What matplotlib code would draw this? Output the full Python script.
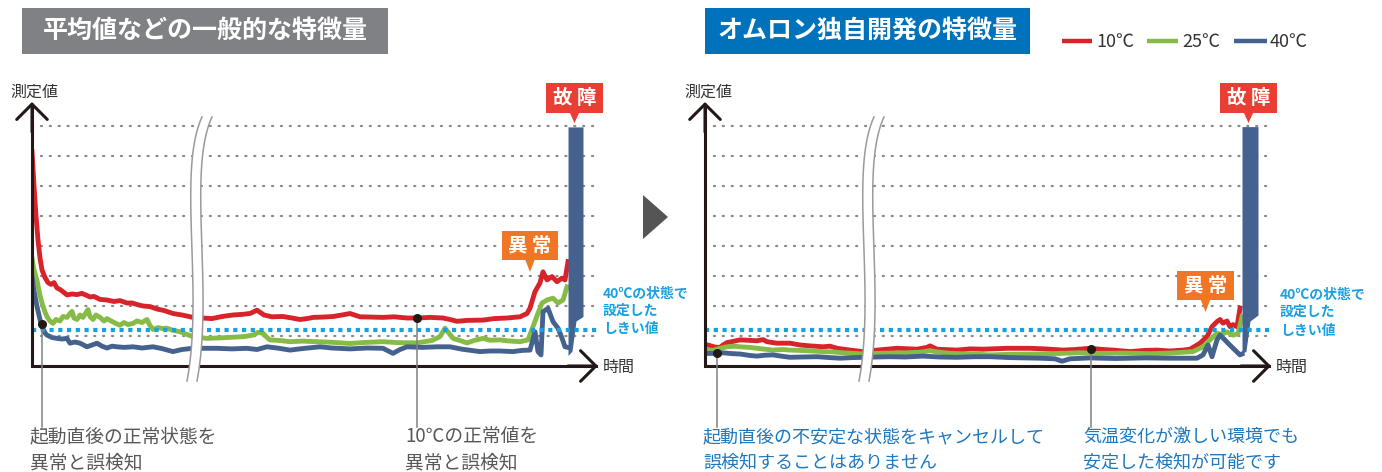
import numpy as np
import matplotlib
matplotlib.use('Agg')
import matplotlib.pyplot as plt
from matplotlib.patches import Rectangle, Polygon

plt.rcParams['font.family'] = ['Noto Sans CJK JP', 'DejaVu Sans']

# Series labels and colours
temps = ['10℃', '25℃', '40℃']
colors = ['#d7242b', '#86bb45', '#45628e']

# Common levels (measured value units)
grid_levels = [1, 2, 3, 4, 5, 6, 7, 8]
threshold = 1.2

# ---- left chart: general features (mean etc.) ----
gen_t_10 = [0, 2, 4, 6, 8, 10, 13, 16, 19, 22, 25, 28, 32, 35, 40, 45, 50, 55, 58, 62,
            68, 75, 82, 88, 95, 100, 105, 111, 118, 125, 132, 141, 150, 161, 170, 180,
            190, 201, 210, 218, 225, 232, 240, 251, 260, 268, 275, 281, 290, 301, 310,
            318, 328, 340, 351, 362, 375, 385, 398, 411, 418, 425, 435, 451, 462, 475,
            488, 495, 498, 503, 508, 511, 515, 520, 525, 530, 533, 536]
gen_v_10 = [7.15, 6.0, 5.0, 4.2, 3.6, 3.2, 2.95, 2.78, 2.72, 2.78, 2.6, 2.55, 2.45, 2.37,
            2.4, 2.38, 2.42, 2.35, 2.3, 2.32, 2.22, 2.2, 2.15, 2.18, 2.1, 2.1, 2.05, 2.0,
            1.98, 1.9, 1.85, 1.75, 1.7, 1.62, 1.6, 1.58, 1.65, 1.7, 1.72, 1.75, 1.86, 1.7,
            1.64, 1.65, 1.6, 1.55, 1.58, 1.62, 1.63, 1.65, 1.7, 1.75, 1.64, 1.63, 1.62,
            1.64, 1.6, 1.6, 1.62, 1.6, 1.55, 1.49, 1.52, 1.53, 1.58, 1.6, 1.64, 1.75, 1.93,
            2.48, 2.77, 3.14, 2.87, 2.98, 2.81, 2.93, 2.87, 3.48]

gen_t_25 = [0, 2, 5, 8, 10, 13, 15, 18, 21, 24, 28, 31, 35, 38, 40, 42, 45, 48, 51, 54,
            56, 58, 61, 64, 68, 72, 75, 78, 82, 85, 88, 92, 96, 101, 105, 110, 115, 118,
            121, 126, 130, 135, 140, 148, 155, 161, 175, 190, 201, 212, 221, 226, 231,
            235, 238, 248, 258, 270, 285, 300, 318, 330, 351, 365, 385, 400, 408, 413,
            418, 421, 428, 435, 443, 451, 458, 468, 475, 488, 496, 501, 506, 510, 515,
            521, 526, 531, 535]
gen_v_25 = [3.6, 3.2, 2.85, 2.35, 2.1, 1.8, 1.64, 1.5, 1.42, 1.55, 1.5, 1.65, 1.62, 1.75,
            1.82, 1.6, 1.55, 1.7, 1.62, 1.78, 1.88, 1.65, 1.55, 1.7, 1.62, 1.5, 1.58, 1.52,
            1.45, 1.4, 1.36, 1.45, 1.38, 1.42, 1.5, 1.45, 1.55, 1.35, 1.22, 1.28, 1.25,
            1.26, 1.2, 1.14, 1.05, 0.98, 0.92, 0.94, 0.96, 0.98, 1.03, 1.12, 1.09, 0.95,
            0.87, 0.85, 0.81, 0.83, 0.81, 0.79, 0.75, 0.78, 0.81, 0.78, 0.77, 0.85, 0.98,
            1.26, 1.05, 0.92, 0.85, 0.77, 0.86, 0.92, 0.86, 0.87, 0.84, 0.81, 0.87, 1.31,
            1.76, 2.1, 2.2, 2.26, 2.1, 2.2, 2.64]

gen_t_40 = [0, 2, 5, 8, 10, 13, 15, 20, 25, 30, 35, 38, 43, 48, 55, 60, 65, 70, 75, 80,
            85, 92, 101, 110, 121, 130, 141, 150, 161, 185, 200, 215, 225, 235, 245, 258,
            270, 288, 300, 318, 335, 351, 361, 368, 375, 390, 405, 418, 430, 448, 458,
            468, 481, 490, 498, 503, 506, 509, 511, 516, 521, 526, 530, 533, 536]
gen_v_40 = [2.98, 2.5, 1.98, 1.55, 1.31, 1.1, 1.03, 0.95, 0.92, 0.9, 0.92, 0.76, 0.8, 0.76,
            0.64, 0.7, 0.76, 0.66, 0.6, 0.66, 0.64, 0.62, 0.64, 0.6, 0.64, 0.58, 0.48, 0.55,
            0.59, 0.59, 0.57, 0.59, 0.55, 0.64, 0.6, 0.53, 0.58, 0.64, 0.6, 0.57, 0.6, 0.59,
            0.42, 0.55, 0.64, 0.62, 0.64, 0.64, 0.56, 0.48, 0.5, 0.5, 0.48, 0.52, 0.53,
            1.14, 0.48, 0.37, 1.81, 1.92, 1.48, 1.26, 0.93, 0.64, 0.62]

gen_fault_t = [536, 540, 544, 551]
gen_fault_low = [0.35, 0.5, 1.5, 1.65]
gen_fault_high = [7.97, 7.97, 7.97, 7.97]

# ---- right chart: OMRON original features ----
own_t_10 = [0, 5, 10, 15, 18, 22, 28, 35, 42, 52, 58, 62, 72, 85, 95, 105, 118, 125, 132,
            145, 158, 172, 192, 212, 222, 225, 232, 252, 265, 278, 302, 325, 340, 358,
            370, 385, 398, 408, 425, 440, 452, 465, 478, 485, 495, 502, 507, 512, 515,
            518, 522, 525, 528, 532, 535]
own_v_10 = [0.72, 0.68, 0.63, 0.62, 0.7, 0.78, 0.82, 0.87, 0.86, 0.84, 0.88, 0.81, 0.76,
            0.76, 0.7, 0.67, 0.64, 0.66, 0.59, 0.53, 0.48, 0.53, 0.59, 0.56, 0.62, 0.67,
            0.56, 0.53, 0.57, 0.56, 0.59, 0.59, 0.57, 0.53, 0.55, 0.59, 0.55, 0.53, 0.48,
            0.52, 0.53, 0.5, 0.53, 0.56, 0.76, 0.98, 1.31, 1.48, 1.55, 1.43, 1.5, 1.31,
            1.38, 1.31, 1.93]

own_t_25 = [0, 8, 15, 22, 30, 35, 45, 52, 60, 68, 78, 85, 95, 102, 118, 128, 138, 148,
            158, 172, 188, 202, 215, 225, 232, 245, 265, 285, 305, 335, 355, 375, 395,
            420, 445, 465, 488, 498, 505, 512, 517, 522, 528, 533, 537]
own_v_25 = [0.55, 0.52, 0.59, 0.64, 0.66, 0.64, 0.62, 0.59, 0.56, 0.53, 0.55, 0.53, 0.52,
            0.51, 0.48, 0.47, 0.44, 0.42, 0.4, 0.42, 0.43, 0.44, 0.46, 0.51, 0.47, 0.42,
            0.4, 0.37, 0.39, 0.4, 0.42, 0.44, 0.42, 0.43, 0.41, 0.43, 0.48, 0.64, 0.87,
            1.09, 1.05, 1.14, 1.03, 1.08, 1.64]

own_t_40 = [0, 8, 18, 28, 35, 45, 52, 60, 68, 78, 85, 98, 112, 125, 135, 148, 158, 185,
            200, 218, 235, 252, 270, 285, 305, 335, 350, 357, 365, 385, 410, 440, 465,
            480, 492, 498, 503, 507, 512, 515, 519, 523, 530, 535, 537]
own_v_40 = [0.42, 0.42, 0.44, 0.41, 0.4, 0.35, 0.33, 0.36, 0.37, 0.32, 0.29, 0.3, 0.31,
            0.28, 0.26, 0.28, 0.29, 0.31, 0.3, 0.33, 0.3, 0.29, 0.31, 0.31, 0.28, 0.26,
            0.24, 0.16, 0.24, 0.27, 0.25, 0.27, 0.26, 0.26, 0.26, 0.37, 0.7, 0.31, 0.87,
            1.03, 0.9, 0.76, 0.53, 0.37, 0.4]

own_fault_t = [537, 541, 545, 553]
own_fault_low = [0.4, 0.5, 1.5, 1.7]
own_fault_high = [7.98, 7.98, 7.98, 7.98]

# callout points (time, value) for the notes under each chart
gen_marks = [(10, 1.4), (385, 1.6)]
own_marks = [(12, 0.43), (386, 0.57)]

gen_title = '平均値などの一般的な特徴量'
own_title = 'オムロン独自開発の特徴量'
gen_notes = [['起動直後の正常状態を', '異常と誤検知'], ['10℃の正常値を', '異常と誤検知']]
own_notes = [['起動直後の不安定な状態をキャンセルして', '誤検知することはありません'],
             ['気温変化が激しい環境でも', '安定した検知が可能です']]
thr_label = ['40℃の状態で', '設定した', 'しきい値']

W, H = 1382, 472
fig = plt.figure(figsize=(W / 100, H / 100), dpi=100)
XMAX, YMAX = 566, 8.8
AX_COLOR = '#231815'


def make_chart(x0, series, fault, marks, break_shift):
    ax = fig.add_axes([x0 / W, (H - 366) / H, XMAX / W, 264 / H])
    ax.set_xlim(0, XMAX)
    ax.set_ylim(0, YMAX)
    ax.axis('off')

    gl = ax.hlines(grid_levels, 0, XMAX - 1, colors='#8a8a8a', lw=1.6,
                   linestyles=(0, (0.5, 3.5)), zorder=1)
    gl.set_capstyle('round')

    for (t, v), c in zip(series, colors):
        ax.plot(t, v, color=c, lw=3.5, solid_joinstyle='round', zorder=3)
    ft, flo, fhi = fault
    ax.fill_between(ft, flo, fhi, color=colors[2], lw=0, zorder=3)

    ax.hlines(threshold, 0, XMAX - 1, colors='#1aa0e0', lw=3,
              linestyles=(0, (1, 1.1)), zorder=4)

    # axes with open arrow heads
    ax.plot([0, 0, XMAX - 2], [YMAX - 0.1, 0, 0], color=AX_COLOR, lw=2.2,
            solid_joinstyle='miter', clip_on=False, zorder=6)
    arrow = dict(arrowstyle='->,head_length=0.55,head_width=0.55', lw=2.2,
                 color=AX_COLOR, shrinkA=0, shrinkB=0, mutation_scale=20)
    ax.annotate('', xy=(XMAX, 0), xytext=(XMAX - 30, 0), arrowprops=arrow,
                annotation_clip=False, zorder=6)
    ax.annotate('', xy=(0, YMAX), xytext=(0, YMAX - 1), arrowprops=arrow,
                annotation_clip=False, zorder=6)

    # wavy break mark
    s = np.linspace(0, 1, 80)
    px = np.array([155, 172, 145, 170]) + break_shift
    py = np.array([-0.5, 2.5, 6.5, 8.3])
    b = np.array([(1 - s) ** 3, 3 * s * (1 - s) ** 2, 3 * s ** 2 * (1 - s), s ** 3])
    bx, by = px @ b, py @ b
    ax.fill(np.r_[bx, (bx + 10)[::-1]], np.r_[by, by[::-1]], color='white',
            lw=0, zorder=7, clip_on=False)
    ax.plot(bx, by, color='#9a9a9a', lw=1.1, zorder=8, clip_on=False)
    ax.plot(bx + 10, by, color='#9a9a9a', lw=1.1, zorder=8, clip_on=False)

    for t, v in marks:
        ax.plot([t, t], [v, -2.03], color='#808080', lw=1.1, zorder=9, clip_on=False)
        ax.plot(t, v, 'o', color=AX_COLOR, ms=5.5, zorder=10, clip_on=False)
    return ax


make_chart(32, [(gen_t_10, gen_v_10), (gen_t_25, gen_v_25), (gen_t_40, gen_v_40)],
           (gen_fault_t, gen_fault_low, gen_fault_high), gen_marks, 0)
make_chart(705, [(own_t_10, own_v_10), (own_t_25, own_v_25), (own_t_40, own_v_40)],
           (own_fault_t, own_fault_low, own_fault_high), own_marks, -1)

# overlay in pixel coordinates for titles, labels and callouts
ov = fig.add_axes([0, 0, 1, 1])
ov.set_xlim(0, W)
ov.set_ylim(H, 0)
ov.axis('off')

ov.add_patch(Rectangle((22, 8), 366, 46, color='#808184', lw=0))
ov.text(205, 31, gen_title, color='white', fontsize=18, fontweight='bold',
        ha='center', va='center')
ov.add_patch(Rectangle((705, 8), 325, 46, color='#0071bb', lw=0))
ov.text(867.5, 31, own_title, color='white', fontsize=18, fontweight='bold',
        ha='center', va='center')

# legend
for (x1, x2, xt), temp, c in zip([(1062, 1092, 1096), (1147, 1178, 1182), (1234, 1267, 1270)],
                                 temps, colors):
    ov.plot([x1, x2], [41, 41], color=c, lw=3.2, solid_capstyle='butt')
    ov.text(xt, 42, temp, fontsize=13, color='#333333', va='center')

# arrow between the two charts
ov.add_patch(Polygon([(643, 195), (643, 239), (668, 217)], color='#555555', lw=0))

for xl, xt in [(10, 603), (684, 1276)]:
    ov.text(xl, 92, '測定値', fontsize=11.5, color='#333333', va='center')
    ov.text(xt, 367, '時間', fontsize=11.5, color='#333333', va='center')

# fault / anomaly tags
for x, y, w, h, c, lab, tip in [(546, 83, 57, 30, '#e83e33', '故 障', 123),
                                (1220, 83, 57, 30, '#e83e33', '故 障', 123),
                                (502, 231, 56, 29, '#f07524', '異 常', 272),
                                (1177, 271, 57, 29, '#f07524', '異 常', 312)]:
    cx = x + w / 2
    ov.add_patch(Rectangle((x, y), w, h, color=c, lw=0))
    ov.add_patch(Polygon([(cx - 5, y + h - 1), (cx + 5, y + h - 1), (cx, tip)], color=c, lw=0))
    ov.text(cx, y + h / 2 + 1, lab, color='white', fontsize=14, fontweight='bold',
            ha='center', va='center')

# threshold labels
for x, ys in [(603, [294, 311, 329]), (1280, [295, 312, 331])]:
    for y, line in zip(ys, thr_label):
        ov.text(x, y, line, fontsize=10, color='#1aa0e0', fontweight='bold', va='center')

# notes under the charts
for (x, note), c, fs in zip([(30, gen_notes[0]), (405, gen_notes[1]),
                             (703, own_notes[0]), (1083, own_notes[1])],
                            ['#595757', '#595757', '#1e78bf', '#1e78bf'],
                            [13.5, 13.5, 13, 13]):
    ov.text(x, 437, note[0], fontsize=fs, color=c, va='center')
    ov.text(x, 463, note[1], fontsize=fs, color=c, va='center')

fig.savefig('out.png', dpi=100)
